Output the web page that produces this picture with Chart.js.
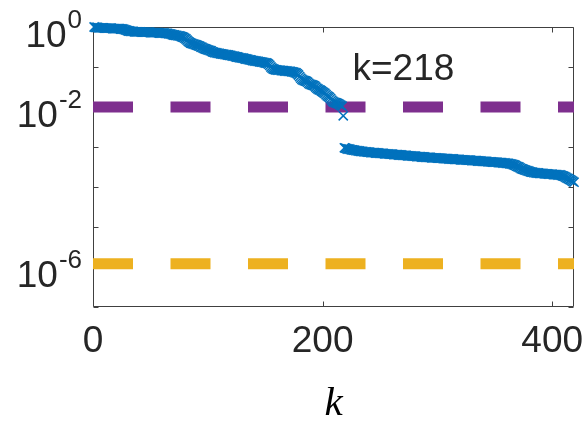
<!DOCTYPE html>
<html>
<head>
<meta charset="utf-8">
<script src="https://cdn.jsdelivr.net/npm/chart.js@4.4.1/dist/chart.umd.min.js"></script>
<style>
  html, body { margin: 0; padding: 0; background: #fff; }
</style>
</head>
<body>
<canvas id="resChart" width="584" height="432"></canvas>
<script>
// log10 of the residual, k = 1 .. 218 (before the jump)
const logResBefore = [
  0.00, -0.01, -0.01, -0.01, -0.02, -0.02, -0.02, -0.02, -0.02, -0.03,
  -0.03, -0.03, -0.03, -0.03, -0.03, -0.03, -0.04, -0.04, -0.04, -0.04,
  -0.04, -0.04, -0.04, -0.05, -0.05, -0.05, -0.06, -0.07, -0.08, -0.09,
  -0.10, -0.10, -0.11, -0.11, -0.11, -0.12, -0.12, -0.12, -0.12, -0.12,
  -0.12, -0.13, -0.13, -0.13, -0.13, -0.13, -0.13, -0.13, -0.13, -0.14,
  -0.14, -0.14, -0.14, -0.14, -0.14, -0.14, -0.14, -0.15, -0.15, -0.15,
  -0.15, -0.15, -0.16, -0.16, -0.16, -0.17, -0.17, -0.18, -0.19, -0.20,
  -0.20, -0.21, -0.21, -0.22, -0.22, -0.23, -0.24, -0.25, -0.26, -0.28,
  -0.30, -0.33, -0.36, -0.38, -0.40, -0.41, -0.42, -0.43, -0.44, -0.45,
  -0.46, -0.47, -0.48, -0.50, -0.51, -0.53, -0.54, -0.55, -0.56, -0.57,
  -0.58, -0.59, -0.60, -0.62, -0.63, -0.64, -0.64, -0.65, -0.66, -0.66,
  -0.67, -0.67, -0.68, -0.68, -0.69, -0.69, -0.70, -0.70, -0.71, -0.71,
  -0.72, -0.73, -0.73, -0.74, -0.75, -0.75, -0.76, -0.77, -0.77, -0.78,
  -0.78, -0.79, -0.80, -0.80, -0.81, -0.82, -0.82, -0.83, -0.84, -0.84,
  -0.85, -0.85, -0.86, -0.86, -0.87, -0.87, -0.88, -0.88, -0.89, -0.90,
  -0.90, -0.91, -0.93, -0.96, -1.00, -1.03, -1.05, -1.06, -1.07, -1.07,
  -1.08, -1.08, -1.08, -1.09, -1.09, -1.09, -1.10, -1.10, -1.10, -1.11,
  -1.11, -1.11, -1.12, -1.12, -1.13, -1.14, -1.15, -1.17, -1.20, -1.24,
  -1.28, -1.31, -1.33, -1.34, -1.35, -1.36, -1.38, -1.41, -1.43, -1.44,
  -1.45, -1.46, -1.47, -1.50, -1.53, -1.55, -1.57, -1.58, -1.60, -1.62,
  -1.64, -1.66, -1.69, -1.72, -1.74, -1.76, -1.79, -1.83, -1.86, -1.88,
  -1.89, -1.90, -1.91, -1.92, -1.94, -1.96, -1.98, -2.22
];

// log10 of the residual, k = 219 .. 419 (after the jump)
const kAfterStart = 219;
const logResAfter = [
  -3.02, -3.03, -3.04, -3.05, -3.05, -3.06, -3.07, -3.07, -3.08, -3.08, -3.09, -3.09,
  -3.10, -3.10, -3.11, -3.11, -3.11, -3.12, -3.12, -3.12, -3.13, -3.13,
  -3.13, -3.14, -3.14, -3.14, -3.14, -3.15, -3.15, -3.15, -3.15, -3.16,
  -3.16, -3.16, -3.16, -3.17, -3.17, -3.17, -3.17, -3.18, -3.18, -3.18,
  -3.18, -3.19, -3.19, -3.19, -3.19, -3.20, -3.20, -3.20, -3.20, -3.21,
  -3.21, -3.21, -3.21, -3.22, -3.22, -3.22, -3.22, -3.23, -3.23, -3.23,
  -3.23, -3.24, -3.24, -3.24, -3.24, -3.25, -3.25, -3.25, -3.25, -3.26,
  -3.26, -3.26, -3.26, -3.26, -3.27, -3.27, -3.27, -3.27, -3.27, -3.28,
  -3.28, -3.28, -3.28, -3.28, -3.29, -3.29, -3.29, -3.29, -3.29, -3.30,
  -3.30, -3.30, -3.30, -3.30, -3.31, -3.31, -3.31, -3.31, -3.31, -3.32,
  -3.32, -3.32, -3.32, -3.32, -3.33, -3.33, -3.33, -3.33, -3.33, -3.34,
  -3.34, -3.34, -3.34, -3.34, -3.35, -3.35, -3.35, -3.35, -3.36, -3.36,
  -3.36, -3.36, -3.36, -3.37, -3.37, -3.37, -3.37, -3.38, -3.38, -3.38,
  -3.38, -3.38, -3.39, -3.39, -3.39, -3.39, -3.40, -3.40, -3.40, -3.41,
  -3.41, -3.41, -3.42, -3.42, -3.43, -3.44, -3.45, -3.46, -3.48, -3.49,
  -3.50, -3.52, -3.54, -3.55, -3.56, -3.57, -3.58, -3.59, -3.60, -3.61,
  -3.62, -3.63, -3.63, -3.64, -3.64, -3.65, -3.65, -3.65, -3.66, -3.66,
  -3.66, -3.66, -3.67, -3.67, -3.67, -3.67, -3.68, -3.68, -3.68, -3.68,
  -3.69, -3.69, -3.69, -3.69, -3.70, -3.70, -3.70, -3.71, -3.72, -3.73,
  -3.74, -3.76, -3.78, -3.79, -3.81, -3.82, -3.84, -3.86, -3.88
];

const xMin = 0;
const xMax = 419;
const xTicks = [0, 200, 400];
const yDecades = [1, 1e-1, 1e-2, 1e-3, 1e-4, 1e-5, 1e-6, 1e-7];
const yLabelExps = [0, -2, -6];      // decades that carry a label
const tolHigh = 1e-2;                // purple dashed level
const tolLow = 1.2e-6;               // yellow dashed level
const noteText = 'k=218';
const noteK = 226;
const noteY = 0.047;
const xTitle = 'k';

const blue = '#0072BD';
const purple = '#7E2F8E';
const yellow = '#EDB120';
const ink = '#262626';
const sans = '"Liberation Sans", Arial, sans-serif';

const points = [];
logResBefore.forEach(function (v, i) {
    points.push({ x: i + 1, y: Math.pow(10, v) });
});
logResAfter.forEach(function (v, i) {
    points.push({ x: kAfterStart + i, y: Math.pow(10, v) });
});

// box, inward ticks, y labels with superscripts and the k=218 note
const matlabAxes = {
    id: 'matlabAxes',
    beforeDatasetsDraw(chart) {
        const { ctx, chartArea: a, scales: { x, y } } = chart;
        const L = Math.round(a.left) + 0.5, R = Math.round(a.right) - 0.5;
        const T = Math.round(a.top) + 0.5, B = Math.round(a.bottom) - 0.5;
        ctx.save();
        ctx.strokeStyle = '#404040';
        ctx.lineWidth = 1;
        ctx.beginPath();
        ctx.rect(L, T, R - L, B - T);
        yDecades.forEach(function (v) {
            const py = Math.round(y.getPixelForValue(v)) + 0.5;
            ctx.moveTo(L, py); ctx.lineTo(L + 5, py);
            ctx.moveTo(R, py); ctx.lineTo(R - 5, py);
        });
        xTicks.forEach(function (v) {
            const px = Math.round(x.getPixelForValue(v)) + 0.5;
            ctx.moveTo(px, T); ctx.lineTo(px, T + 5);
            ctx.moveTo(px, B); ctx.lineTo(px, B - 5);
        });
        ctx.stroke();
        ctx.restore();
    },
    afterDraw(chart) {
        const { ctx, chartArea: a, scales: { x, y } } = chart;
        ctx.save();
        ctx.fillStyle = ink;
        ctx.textBaseline = 'alphabetic';
        const right = a.left - 11;
        yLabelExps.forEach(function (e) {
            const py = y.getPixelForValue(Math.pow(10, e));
            const sup = String(e);
            ctx.font = '26px ' + sans;
            ctx.textAlign = 'right';
            const w = ctx.measureText(sup).width;
            ctx.fillText(sup, right, py + 1);
            ctx.font = '37px ' + sans;
            ctx.fillText('10', right - w - 1, py + 20);
        });
        ctx.font = '37px ' + sans;
        ctx.textAlign = 'left';
        ctx.fillText(noteText, x.getPixelForValue(noteK), y.getPixelForValue(noteY));
        ctx.restore();
    }
};

const ctx = document.getElementById('resChart').getContext('2d');
new Chart(ctx, {
    type: 'scatter',
    data: {
        datasets: [{
            label: 'residual',
            data: points,
            showLine: false,
            pointStyle: 'crossRot',
            pointRadius: 6.5,
            pointBorderWidth: 1.5,
            pointBorderColor: blue,
            pointBackgroundColor: blue,
            clip: false,
            order: 0
        }, {
            label: 'tol 1e-2',
            data: [{ x: xMin, y: tolHigh }, { x: xMax, y: tolHigh }],
            showLine: true,
            borderColor: purple,
            borderWidth: 11,
            borderDash: [40, 37.5],
            borderCapStyle: 'butt',
            pointRadius: 0,
            order: 1
        }, {
            label: 'tol 1e-6',
            data: [{ x: xMin, y: tolLow }, { x: xMax, y: tolLow }],
            showLine: true,
            borderColor: yellow,
            borderWidth: 11,
            borderDash: [40, 37.5],
            borderCapStyle: 'butt',
            pointRadius: 0,
            order: 2
        }]
    },
    options: {
        responsive: false,
        animation: false,
        events: [],
        layout: { padding: { top: 27, right: 10, left: 0, bottom: 0 } },
        plugins: {
            legend: { display: false },
            tooltip: { enabled: false }
        },
        scales: {
            x: {
                type: 'linear',
                min: xMin,
                max: xMax,
                afterBuildTicks: function (s) {
                    s.ticks = xTicks.map(function (v) { return { value: v }; });
                },
                afterFit: function (s) {
                    s.height = 125;
                    s.paddingLeft = 0;
                    s.paddingRight = 0;
                },
                grid: { display: false, drawTicks: false },
                border: { display: false },
                ticks: {
                    color: ink,
                    padding: 13,
                    maxRotation: 0,
                    font: { family: sans, size: 37 }
                },
                title: {
                    display: true,
                    text: xTitle,
                    color: '#000',
                    font: { family: '"Liberation Serif", "Times New Roman", serif', style: 'italic', size: 41 },
                    padding: { top: 0, bottom: 3 }
                }
            },
            y: {
                type: 'logarithmic',
                min: 1e-7,
                max: 1,
                afterBuildTicks: function (s) {
                    s.ticks = yDecades.map(function (v) { return { value: v }; });
                },
                afterFit: function (s) {
                    s.width = 93;
                    s.paddingTop = 0;
                    s.paddingBottom = 0;
                },
                grid: { display: false, drawTicks: false },
                border: { display: false },
                ticks: { display: false }
            }
        }
    },
    plugins: [matlabAxes]
});
</script>
</body>
</html>
